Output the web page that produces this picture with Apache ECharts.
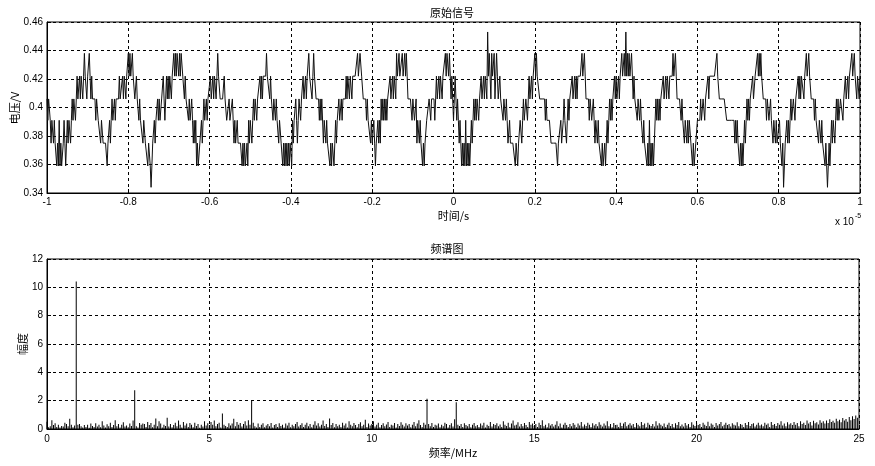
<!DOCTYPE html>
<html>
<head>
<meta charset="utf-8">
<script src="https://cdn.jsdelivr.net/npm/echarts@6/dist/echarts.min.js"></script>
<style>
  html, body { margin: 0; padding: 0; background: #fff; }
  #main { width: 875px; height: 466px; }
</style>
</head>
<body>
<div id="main"></div>
<script>
// 原始信号 (V), 1001 samples over -1e-5 .. 1e-5 s
var sigVolt = [
  .406,.391,.406,.406,.391,.375,.391,.391,.375,.391,.375,.375,
  .359,.375,.359,.391,.359,.375,.359,.359,.375,.391,.375,.359,.375,.391,.375,.391,
  .391,.375,.391,.406,.391,.406,.406,.391,.406,.422,.406,.406,.422,.406,.422,.422,.406,.422,.438,.422,.422,.406,.422,.422,
  .438,
  .422,.406,.422,.406,.406,.406,.406,.391,.406,.406,.391,.391,.391,.375,.391,.391,.375,.375,.375,.375,.375,
  .359,
  .375,.375,.391,.375,.391,.406,.391,.391,.406,.391,.406,.406,.406,.406,.422,.406,.406,.406,.422,.406,.422,.422,.406,.422,.422,.438,.422,
  .438,
  .422,.422,.438,.422,.422,.406,.406,.422,.406,.406,.391,.406,.391,.391,.391,.375,.391,.391,.375,.375,.375,.359,.375,.375,.359,
  .344,
  .359,.375,.375,.391,.375,.391,.391,.406,.391,.406,.391,.391,.406,.406,.422,.406,.391,.406,.422,.406,.422,.406,.422,.422,.406,.422,.422,
  .438,.422,.438,.422,.438,.438,.422,.438,.422,.438,.438,.422,.422,
  .406,.422,.406,.406,.406,.391,.406,.391,.391,.406,.391,.375,.391,.375,.391,
  .359,.375,.359,.359,.375,
  .375,.391,.375,.391,.406,.391,.391,.406,.391,.406,.406,.406,.422,.406,.406,.422,.406,.422,.422,.406,.422,
  .438,
  .422,.422,.406,.406,.406,.406,.406,.422,.406,.406,.391,.391,.391,.406,.391,.391,.391,.406,.391,.375,.391,.375,.375,.391,.375,.375,.375,.375,.375,
  .359,.375,.359,.375,.359,.359,.375,
  .359,.391,.375,.391,.391,.375,.391,.406,.391,.406,.406,.391,.406,.406,.406,.422,.406,.422,.406,.422,.422,.422,.422,
  .438,
  .422,.422,.422,.406,.422,.406,.406,.391,.406,.406,.391,.406,.391,.391,.375,.391,.391,.375,.375,
  .359,.375,.359,.375,.359,.375,.359,.375,.359,.375,.375,.359,
  .391,.375,.391,.391,.406,.391,.375,.391,.406,.406,.391,.406,.406,.422,.406,.406,.422,.406,.422,.422,
  .438,.422,.422,.422,.406,.422,.438,.422,.422,
  .406,.406,.406,.406,.391,.406,.391,.406,.406,.375,.391,.391,.375,.391,.375,.375,.375,
  .359,.375,.359,.375,.375,.359,.375,
  .391,.375,.391,.391,.406,.391,.391,.406,.391,.406,.406,.406,.406,.422,.406,.422,.422,.406,.422,.422,.406,.422,.422,.422,.422,.422,.422,
  .438,.422,.422,.438,.438,.422,.422,
  .406,.406,.406,.406,.391,.406,.391,.391,.391,.375,.391,.375,.375,.391,.375,
  .359,.375,
  .375,.391,.375,.391,.375,.406,.391,.406,.391,.406,.391,.406,.391,.406,.406,.406,.422,.406,.406,.422,.406,.422,.422,.406,
  .438,.422,.422,.438,.422,.422,.422,.438,.422,.422,.438,.422,.438,
  .422,.406,.406,.406,.406,.406,.391,.406,.406,.391,.391,.406,.375,.391,.391,.375,.391,.375,.375,
  .359,.375,.359,.375,.375,
  .391,.391,.391,.406,.406,.391,.406,.406,.406,.406,.391,.406,.422,.406,.406,.422,.406,.422,.422,.406,.422,.422,.422,
  .438,.422,.438,.438,.422,.438,.422,
  .406,.422,.406,.391,.406,.422,.406,.391,.406,.391,.375,.391,.375,
  .359,.375,.359,.375,.359,.391,.359,.375,.359,.375,.359,.375,
  .391,.375,.391,.406,.391,.406,.391,.406,.406,.391,.406,.406,.422,.406,.406,.422,.406,.422,.422,.406,
  .453,
  .422,.438,.422,.406,.438,.422,.422,.438,.406,.422,.438,.422,.406,
  .406,.422,.406,.406,.406,.391,.406,.406,.391,.406,.391,.375,.375,.391,.375,.375,.375,.375,.375,.375,
  .359,.375,.375,.359,
  .375,.375,.391,.391,.375,.391,.406,.391,.391,.406,.406,.391,.406,.422,.406,.406,.422,.406,.422,.422,
  .438,.422,.438,
  .422,.422,.422,.406,.406,.406,.406,.406,.406,.406,.391,.406,.391,.391,.391,.391,.391,.375,.375,.375,.375,.375,.375,.375,.375,
  .359,
  .375,.375,.375,.391,.375,.375,.391,.406,.391,.391,.375,.391,.406,.391,.406,.406,.406,.422,.406,.406,.422,.406,.422,.406,.422,.422,.422,.422,.422,
  .438,.422,.422,.438,
  .422,.406,.406,.406,.406,.391,.406,.406,.391,.391,.406,.391,.375,.391,.391,.375,.391,.375,.375,.375,
  .359,.375,.359,.359,.375,.359,.375,
  .391,.375,.391,.406,.391,.406,.391,.406,.406,.422,.406,.422,.406,.406,.422,.406,.422,
  .422,.438,.422,.422,.438,.422,.453,.422,.438,.422,.438,.422,.422,.438,.422,
  .406,.422,.406,.406,.406,.391,.406,.406,.391,.406,.391,.391,.375,.391,.375,.375,.375,
  .359,.375,.359,.391,.359,.375,.359,.375,.359,
  .375,.375,.406,.391,.406,.391,.406,.391,.406,.406,.406,.422,.406,.406,.422,.406,.422,.422,.406,.422,.422,.422,.422,
  .438,.422,.422,.438,.422,
  .406,.406,.406,.406,.406,.391,.406,.391,.391,.375,.391,.391,.375,.391,.375,.391,.391,.375,.375,
  .359,.375,.359,.359,.375,
  .375,.391,.391,.391,.391,.406,.391,.391,.406,.406,.391,.406,.406,.406,.422,.406,.422,.422,.422,.422,.422,.422,.422,.422,.422,
  .438,
  .422,.422,.406,.406,.406,.406,.406,.406,.406,.406,.406,.391,.391,.391,.391,.391,.391,.391,.391,.391,.391,.375,.391,.375,.391,.375,.375,
  .359,.375,.359,.375,.359,.375,
  .391,.375,.391,.406,.391,.406,.391,.406,.406,.406,.422,.406,.406,.422,.422,.422,
  .438,.422,.438,.422,.438,.422,.422,
  .406,.406,.406,.406,.391,.406,.406,.391,.391,.406,.391,.391,.375,.391,.391,.375,.391,.375,.375,.375,.391,.375,.375,.359,.375,
  .344,
  .359,.375,.375,.391,.375,.391,.375,.391,.406,.391,.391,.406,.406,.391,.406,.406,.406,.422,.406,.422,.406,.422,.422,.422,.406,.422,.422,
  .438,.422,.422,.438,.422,
  .422,.406,.406,.406,.406,.391,.406,.391,.391,.391,.375,.391,.391,.375,.391,.375,.375,.375,.359,.375,.359,
  .344,
  .359,.375,.359,.375,.391,.375,.391,.391,.375,.391,.406,.391,.406,.391,.391,.406,.406,.406,.391,.406,.406,.422,.406,.406,.422,.406,.422,.422,.422,
  .438,
  .422,.422,.438,.422,.422,.406,.422,.422,.406,.422
];

// 频谱图 amplitude, 0.05 MHz bins from 0 MHz
var specAmp = [
  0.52,0.12,0.2,0.62,0.28,0.4,0.15,0.3,0.1,0.22,0.18,0.45,0.35,0.2,0.72,0.3,0.12,0.25,10.42,0.3,
  0.35,0.2,0.1,0.28,0.15,0.3,0.08,0.38,0.22,0.14,0.4,0.18,0.3,0.12,0.55,0.25,0.1,0.33,0.2,0.45,
  0.15,0.28,0.62,0.2,0.35,0.1,0.3,0.48,0.18,0.25,0.12,0.38,0.22,0.6,2.73,0.2,0.1,0.42,0.3,0.38,
  0.35,0.15,0.5,0.28,0.42,0.12,0.3,0.75,0.2,0.55,0.38,0.1,0.3,0.22,0.8,0.18,0.35,0.12,0.28,0.45,
  0.2,0.6,0.3,0.1,0.5,0.25,0.38,0.15,0.42,0.3,0.12,0.45,0.22,0.35,0.08,0.3,0.18,0.55,0.25,0.4,
  0.15,0.5,0.3,0.6,0.2,0.35,0.45,0.1,1.1,0.3,0.22,0.15,0.4,0.25,0.38,0.72,0.2,0.5,0.3,0.42,
  0.18,0.35,0.55,0.25,0.62,0.3,2.0,0.45,0.2,0.1,0.38,0.15,0.3,0.4,0.12,0.25,0.35,0.2,0.42,0.1,
  0.28,0.35,0.15,0.4,0.22,0.3,0.1,0.38,0.25,0.45,0.12,0.3,0.2,0.35,0.5,0.18,0.28,0.4,0.15,0.3,
  0.45,0.2,0.35,0.12,0.3,0.55,0.25,0.4,0.18,0.3,0.6,0.22,0.35,0.15,0.75,0.28,0.42,0.12,0.35,0.2,
  0.3,0.15,0.45,0.25,0.38,0.1,0.55,0.3,0.2,0.42,0.28,0.12,0.35,0.48,0.2,0.3,0.65,0.15,0.38,0.25,
  0.35,0.55,0.18,0.3,0.45,0.12,0.28,0.4,0.2,0.32,0.5,0.15,0.3,0.25,0.42,0.1,0.35,0.22,0.48,0.3,
  0.18,0.4,0.25,0.35,0.12,0.3,0.5,0.2,0.38,0.62,0.28,0.15,0.45,0.3,2.14,0.35,0.2,0.42,0.15,0.3,
  0.25,0.38,0.12,0.3,0.2,0.45,0.35,0.1,0.28,0.4,0.18,0.68,1.88,0.3,0.22,0.35,0.15,0.4,0.28,0.2,
  0.35,0.12,0.3,0.42,0.2,0.28,0.15,0.38,0.25,0.45,0.1,0.3,0.22,0.5,0.18,0.35,0.28,0.4,0.2,0.32,
  0.15,0.55,0.3,0.22,0.45,0.12,0.38,0.6,0.25,0.3,0.48,0.18,0.35,0.2,0.42,0.28,0.15,0.5,0.3,0.38,
  0.22,0.35,0.15,0.45,0.28,0.62,0.2,0.3,0.12,0.4,0.25,0.35,0.18,0.3,0.55,0.2,0.38,0.1,0.3,0.45,
  0.28,0.15,0.35,0.2,0.42,0.3,0.12,0.38,0.25,0.5,0.18,0.32,0.22,0.45,0.3,0.15,0.4,0.25,0.35,0.2,
  0.48,0.3,0.18,0.38,0.25,0.55,0.2,0.35,0.12,0.42,0.28,0.3,0.15,0.45,0.22,0.38,0.5,0.2,0.3,0.4,
  0.25,0.35,0.15,0.42,0.3,0.2,0.5,0.28,0.38,0.12,0.45,0.3,0.22,0.35,0.18,0.55,0.25,0.4,0.3,0.2,
  0.38,0.15,0.3,0.45,0.22,0.35,0.12,0.4,0.28,0.5,0.2,0.32,0.18,0.42,0.25,0.35,0.15,0.48,0.3,0.22,
  0.4,0.28,0.35,0.15,0.45,0.3,0.22,0.52,0.2,0.38,0.3,0.15,0.42,0.25,0.35,0.5,0.2,0.3,0.45,0.28,
  0.35,0.18,0.4,0.3,0.25,0.48,0.2,0.35,0.3,0.15,0.42,0.28,0.5,0.22,0.35,0.4,0.18,0.3,0.45,0.25,
  0.32,0.2,0.45,0.3,0.38,0.15,0.5,0.28,0.35,0.22,0.42,0.3,0.55,0.25,0.38,0.2,0.48,0.32,0.4,0.28,
  0.5,0.3,0.42,0.2,0.55,0.35,0.45,0.28,0.6,0.38,0.5,0.25,0.58,0.4,0.48,0.32,0.62,0.45,0.55,0.38,
  0.6,0.42,0.68,0.5,0.58,0.45,0.72,0.55,0.65,0.48,0.78,0.6,0.7,0.52,0.85,0.62,0.9,0.7,0.95,0.8
];

var timeRange = [-1, 1]      // x 10^-5 s
var freqStep = 0.05          // MHz per bin

var sigData = sigVolt.map(function (v, i) {
  return [timeRange[0] + (timeRange[1] - timeRange[0]) * i / (sigVolt.length - 1), v]
})
var specData = specAmp.map(function (v, i) {
  return [+(i * freqStep).toFixed(2), v]
})

var labelFont = 'Liberation Sans'
var cjkFont = 'Noto Sans CJK SC'

function axisCommon(extra) {
  var base = {
    type: 'value',
    axisLine: { show: true, onZero: false, lineStyle: { color: '#000', width: 1 } },
    axisTick: { show: true, inside: true, length: 4, lineStyle: { color: '#000' } },
    splitLine: { show: true, lineStyle: { color: '#000', type: [3, 3], width: 1 } },
    nameTextStyle: { color: '#000', fontSize: 11, fontFamily: cjkFont }
  }
  return Object.assign(base, extra)
}
function tickLabel(margin) {
  return { color: '#000', fontSize: 10, fontFamily: labelFont, margin: margin }
}
function textEl(str, x, y, size, font, rot) {
  return { type: 'text', x: x, y: y, rotation: rot || 0,
    style: { text: str, fill: '#000', font: size + 'px "' + font + '"', align: 'center', verticalAlign: 'middle' } }
}

var myChart = echarts.init(document.getElementById('main'))
var option = {
  animation: false,
  backgroundColor: '#fff',
  grid: [
    { left: 47, right: 15, top: 22, height: 171, containLabel: false, outerBoundsMode: 'none',
      show: true, borderColor: '#000', borderWidth: 1, backgroundColor: '#fff' },
    { left: 47, right: 16, top: 259, height: 170, containLabel: false, outerBoundsMode: 'none',
      show: true, borderColor: '#000', borderWidth: 1, backgroundColor: '#fff' }
  ],
  xAxis: [
    axisCommon({ gridIndex: 0, min: -1, max: 1, interval: 0.2, name: '时间/s', nameLocation: 'middle', nameGap: 17, axisLabel: tickLabel(4) }),
    axisCommon({ gridIndex: 1, min: 0, max: 25, interval: 5, name: '频率/MHz', nameLocation: 'middle', nameGap: 18, axisLabel: tickLabel(5) })
  ],
  yAxis: [
    axisCommon({ gridIndex: 0, min: 0.34, max: 0.46, interval: 0.02, axisLabel: tickLabel(4) }),
    axisCommon({ gridIndex: 1, min: 0, max: 12, interval: 2, axisLabel: tickLabel(4) })
  ],
  graphic: [
    textEl('原始信号', 452, 13, 11, cjkFont),
    textEl('频谱图', 447, 249, 11, cjkFont),
    textEl('电压/V', 15, 108, 11, cjkFont, Math.PI / 2),
    textEl('幅度', 23, 344, 11, cjkFont, Math.PI / 2),
    { type: 'text', x: 835, y: 222, style: { text: 'x 10', fill: '#000', font: '10px "' + labelFont + '"', align: 'left', verticalAlign: 'middle' } },
    { type: 'text', x: 855, y: 216, style: { text: '-5', fill: '#000', font: '7px "' + labelFont + '"', align: 'left', verticalAlign: 'middle' } }
  ],
  series: [
    {
      type: 'line',
      xAxisIndex: 0,
      yAxisIndex: 0,
      data: sigData,
      showSymbol: false,
      lineStyle: { color: '#111', width: 1 }
    },
    {
      type: 'bar',
      xAxisIndex: 1,
      yAxisIndex: 1,
      data: specData,
      barWidth: 1,
      itemStyle: { color: '#000' }
    }
  ]
}
myChart.setOption(option)
</script>
</body>
</html>
